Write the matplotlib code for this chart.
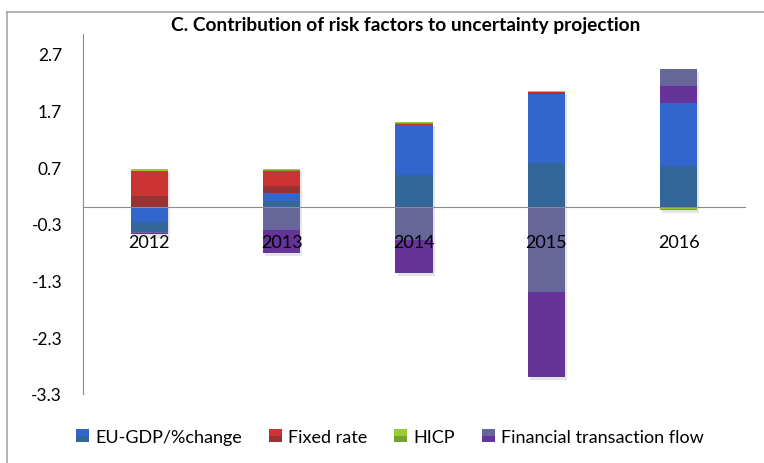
import matplotlib
matplotlib.use("Agg")
import matplotlib.pyplot as plt
import numpy as np
from matplotlib.patches import Rectangle
from matplotlib.legend_handler import HandlerBase
from matplotlib.lines import Line2D
import matplotlib.patheffects as pe

plt.rcParams['font.family'] = ['Lato', 'DejaVu Sans']

# ---- data ----
years = ['2012', '2013', '2014', '2015', '2016']
series_names = ['EU-GDP/%change', 'Fixed rate', 'HICP', 'Financial transaction flow']
eu_gdp = [-0.44, 0.25, 1.44, 2.00, 1.84]
fixed_rate = [0.63, 0.39, 0.03, 0.02, 0.00]
hicp = [0.03, 0.03, 0.02, 0.03, -0.05]
fin_flow = [-0.04, -0.81, -1.16, -3.00, 0.60]
yticks = [2.7, 1.7, 0.7, -0.3, -1.3, -2.3, -3.3]

# ---- styles ----
top_colors = ['#3366CC', '#CC3333', '#99CC33', '#666699']
bot_colors = ['#336699', '#993333', '#77A033', '#663399']
bot_frac = [0.39, 0.30, 0.40, 0.50]

fig = plt.figure(figsize=(7.64, 4.64), dpi=100)
ax = fig.add_axes([83/764, 1-395/464, (745-83)/764, (395-35)/464])

x = np.arange(len(years))
width = 0.28
data = [eu_gdp, fixed_rate, hicp, fin_flow]

pos_base = np.zeros(len(years))
neg_base = np.zeros(len(years))
pos_tot = np.sum([np.clip(d, 0, None) for d in data], axis=0)
neg_tot = np.sum([np.clip(d, None, 0) for d in data], axis=0)

# background shadow bars
ax.bar(x, pos_tot - neg_tot, width, bottom=neg_tot, color='white', zorder=1, linewidth=0,
       path_effects=[pe.SimplePatchShadow(offset=(1.5, -2.5), shadow_rgbFace='#999999', alpha=0.25), pe.Normal()])

for si, d in enumerate(data):
    d = np.array(d, dtype=float)
    lo = np.where(d >= 0, pos_base, neg_base + d)
    hi = lo + np.abs(d)
    split = lo + bot_frac[si] * (hi - lo)
    ax.bar(x, split - lo, width, bottom=lo, color=bot_colors[si], zorder=2, linewidth=0)
    ax.bar(x, hi - split, width, bottom=split, color=top_colors[si], zorder=2, linewidth=0)
    pos_base = pos_base + np.clip(d, 0, None)
    neg_base = neg_base + np.clip(d, None, 0)

ax.set_xlim(-0.5, len(years) - 0.5)
ax.set_ylim(-3.3, 3.05)
ax.set_yticks(yticks)
ax.set_yticklabels([f'{v:.1f}' for v in yticks])
ax.set_xticks(x)
ax.set_xticklabels(years)

for s in ['top', 'right']:
    ax.spines[s].set_visible(False)
ax.spines['bottom'].set_position(('data', 0))
ax.spines['bottom'].set_color('#8C8C8C')
ax.spines['left'].set_color('#8C8C8C')
ax.spines['bottom'].set_zorder(3)
ax.tick_params(axis='x', length=0, pad=19.5, labelsize=13, colors='#000000')
ax.tick_params(axis='y', length=0, pad=15, labelsize=12.5)
ax.xaxis.set_zorder(5)
ax.patch.set_visible(False)

# title
fig.text(406/764, 1-26/464, 'C. Contribution of risk factors to uncertainty projection',
         ha='center', va='center', fontsize=13.8, fontweight='bold')

# legend with two-tone squares
class TwoTone:
    def __init__(self, top, bot, frac):
        self.top, self.bot, self.frac = top, bot, frac

class TwoToneHandler(HandlerBase):
    def create_artists(self, legend, h, xdescent, ydescent, width, height, fontsize, trans):
        s = min(width, height) * 1.0
        x0 = -xdescent + (width - s) / 2
        y0 = -ydescent + (height - s) / 2
        r1 = Rectangle((x0, y0), s, s * h.frac, facecolor=h.bot, edgecolor='none', transform=trans)
        r2 = Rectangle((x0, y0 + s * h.frac), s, s * (1 - h.frac), facecolor=h.top, edgecolor='none', transform=trans)
        return [r1, r2]

handles = [TwoTone(t, b, f) for t, b, f in zip(top_colors, bot_colors, [0.5] * 4)]
fig.legend(handles, series_names, handler_map={TwoTone: TwoToneHandler()},
           loc='center', bbox_to_anchor=(390/764, 1-438/464), ncol=4, frameon=False,
           fontsize=13, handlelength=0.7, handleheight=0.7, handletextpad=0.35,
           columnspacing=1.5)

# outer frame
fig.add_artist(Line2D([7/764, 1], [1-13/464, 1-13/464], color='#A6A6A6', lw=1.2, transform=fig.transFigure))
fig.add_artist(Line2D([7/764, 7/764], [0, 1-13/464], color='#A6A6A6', lw=1.2, transform=fig.transFigure))

fig.savefig('out.png', dpi=100)
